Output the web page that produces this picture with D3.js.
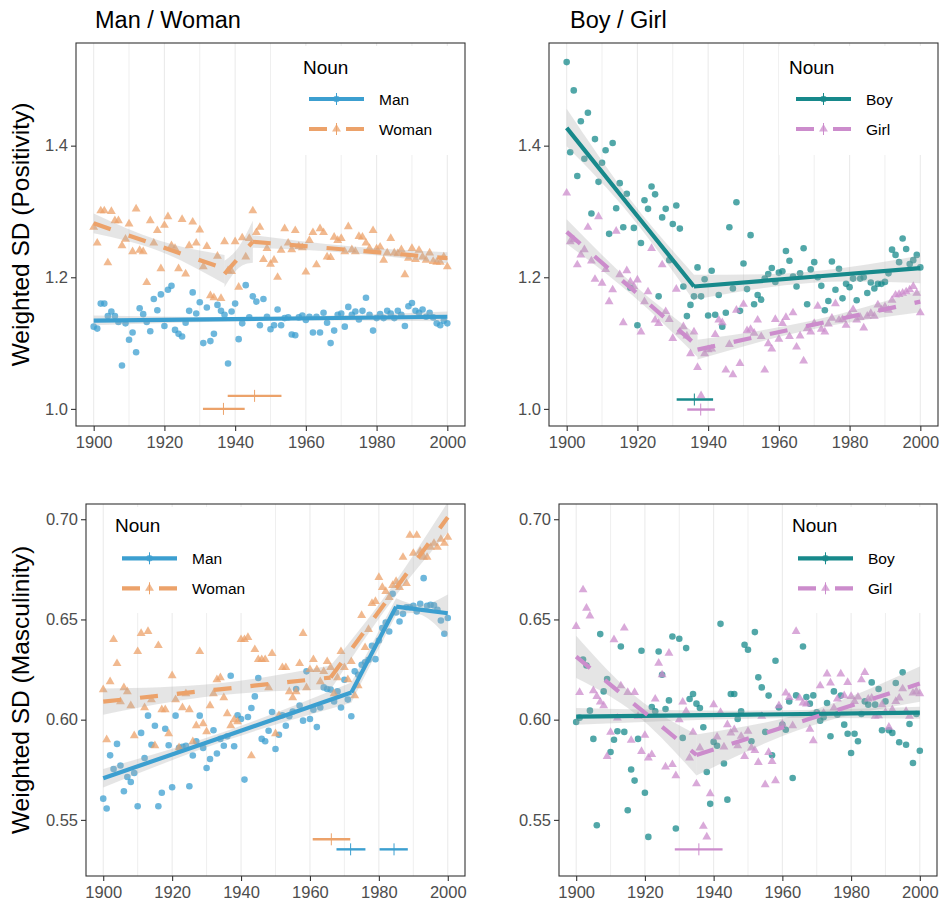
<!DOCTYPE html>
<html>
<head>
<meta charset="utf-8">
<style>
    body { margin: 0; background: #fff; }
    text { font-family: "Liberation Sans", Arial, sans-serif; }
</style>
</head>
<body>
<svg id="chart" width="940" height="905"></svg>
<script src="https://cdnjs.cloudflare.com/ajax/libs/d3/7.8.5/d3.min.js"></script>
<script>
// one point per year
var years = d3.range(1900, 2001)
var xTicks = [1900, 1920, 1940, 1960, 1980, 2000]
var gridYears = [1900, 1910, 1920, 1930, 1940, 1950, 1960, 1970, 1980, 1990, 2000]
var posTicks = [1.0, 1.2, 1.4]
var mascTicks = [0.55, 0.60, 0.65, 0.70]

// weighted SD of positivity, by year
var manPos = [1.125,1.122,1.160,1.160,1.141,1.148,1.141,1.132,1.066,1.130,
    1.105,1.116,1.086,1.153,1.144,1.132,1.118,1.167,1.150,1.174,
    1.126,1.181,1.187,1.120,1.114,1.110,1.131,1.149,1.177,1.145,
    1.162,1.100,1.154,1.103,1.114,1.158,1.149,1.143,1.069,1.148,
    1.160,1.106,1.130,1.188,1.139,1.171,1.163,1.127,1.167,1.140,
    1.121,1.127,1.151,1.127,1.138,1.139,1.113,1.112,1.139,1.142,
    1.135,1.140,1.116,1.140,1.116,1.146,1.131,1.100,1.119,1.143,
    1.145,1.125,1.155,1.143,1.148,1.136,1.149,1.169,1.143,1.119,
    1.138,1.144,1.138,1.149,1.145,1.138,1.149,1.143,1.126,1.156,
    1.161,1.149,1.146,1.151,1.140,1.146,1.139,1.130,1.127,1.134,
    1.130]
var womanPos = [1.276,1.252,1.301,1.301,1.222,1.300,1.286,1.286,1.248,1.258,
    1.281,1.239,1.304,1.241,1.239,1.192,1.286,1.252,1.271,1.213,
    1.279,1.292,1.248,1.244,1.213,1.288,1.205,1.248,1.284,1.252,
    1.272,1.216,1.247,1.172,1.169,1.232,1.168,1.254,1.210,1.209,
    1.254,1.185,1.260,1.231,1.259,1.301,1.268,1.276,1.227,1.244,
    1.220,1.226,1.200,1.241,1.274,1.252,1.242,1.271,1.247,1.245,
    1.208,1.256,1.268,1.219,1.274,1.268,1.231,1.230,1.261,1.256,
    1.259,1.239,1.277,1.242,1.239,1.262,1.261,1.252,1.244,1.271,
    1.243,1.246,1.226,1.237,1.259,1.237,1.236,1.242,1.204,1.229,
    1.244,1.227,1.241,1.231,1.226,1.237,1.224,1.223,1.223,1.231,
    1.216]
var boyPos = [1.527,1.390,1.484,1.354,1.437,1.380,1.450,1.297,1.410,1.345,
    1.374,1.393,1.266,1.404,1.305,1.343,1.276,1.327,1.184,1.275,
    1.127,1.252,1.317,1.304,1.338,1.326,1.171,1.291,1.304,1.226,
    1.281,1.309,1.274,1.186,1.141,1.158,1.171,1.215,1.171,1.197,
    1.142,1.210,1.143,1.173,1.125,1.146,1.276,1.183,1.314,1.149,
    1.221,1.182,1.264,1.159,1.173,1.166,1.198,1.205,1.214,1.193,
    1.207,1.209,1.240,1.225,1.201,1.186,1.206,1.244,1.159,1.212,
    1.223,1.200,1.187,1.150,1.164,1.224,1.181,1.213,1.168,1.190,
    1.185,1.198,1.165,1.198,1.200,1.176,1.192,1.183,1.190,1.190,
    1.193,1.206,1.242,1.234,1.223,1.259,1.243,1.220,1.226,1.234,
    1.215]
var girlPos = [1.328,1.254,1.257,1.219,1.234,1.242,1.276,1.225,1.197,1.292,
    1.191,1.212,1.163,1.181,1.270,1.204,1.131,1.210,1.193,1.186,
    1.196,1.117,1.163,1.178,1.244,1.135,1.130,1.219,1.148,1.136,
    1.107,1.182,1.117,1.125,1.111,1.084,1.117,1.063,1.020,1.084,
    1.090,1.091,1.113,1.135,1.131,1.059,1.098,1.052,1.150,1.069,
    1.159,1.119,1.121,1.115,1.135,1.110,1.059,1.099,1.091,1.136,
    1.106,1.130,1.139,1.110,1.146,1.094,1.111,1.073,1.122,1.117,
    1.130,1.156,1.121,1.117,1.129,1.138,1.160,1.135,1.136,1.127,
    1.143,1.151,1.135,1.139,1.123,1.141,1.145,1.141,1.158,1.151,
    1.155,1.150,1.165,1.173,1.174,1.176,1.178,1.181,1.186,1.176,
    1.146]

// weighted SD of masculinity, by year
var manMasc = [0.5606,0.5557,0.5822,0.5754,0.5879,0.5771,0.5643,0.5714,0.5689,0.5734,
    0.5568,0.5934,0.5809,0.6020,0.5875,0.5970,0.5568,0.5635,0.5955,0.5872,
    0.5663,0.6020,0.5859,0.5864,0.5870,0.5668,0.5821,0.5892,0.6020,0.5859,
    0.5759,0.5804,0.5947,0.5831,0.5904,0.5870,0.5917,0.6219,0.5867,0.6022,
    0.6003,0.5701,0.6013,0.6058,0.6116,0.6208,0.5904,0.5892,0.5945,0.6038,
    0.5854,0.5925,0.6022,0.5970,0.6017,0.6041,0.6153,0.6071,0.5995,0.6241,
    0.6003,0.6050,0.5963,0.6061,0.6161,0.6153,0.6150,0.6091,0.6141,0.6061,
    0.6199,0.6100,0.6017,0.6241,0.6224,0.6274,0.6286,0.6299,0.6369,0.6302,
    0.6395,0.6457,0.6485,0.6440,0.6628,0.6535,0.6490,0.6528,0.6561,0.6561,
    0.6568,0.6540,0.6578,0.6706,0.6568,0.6573,0.6570,0.6548,0.6495,0.6429,
    0.6507]
var womanMasc = [0.615,0.590,0.619,0.640,0.628,0.609,0.616,0.614,0.607,0.592,
    0.634,0.643,0.606,0.644,0.610,0.587,0.637,0.605,0.605,0.593,
    0.622,0.610,0.586,0.606,0.613,0.605,0.589,0.597,0.634,0.598,
    0.594,0.607,0.613,0.620,0.621,0.611,0.603,0.597,0.600,0.599,
    0.640,0.640,0.641,0.582,0.635,0.630,0.630,0.630,0.616,0.633,
    0.593,0.602,0.626,0.626,0.614,0.611,0.614,0.628,0.643,0.616,
    0.625,0.630,0.625,0.619,0.624,0.629,0.626,0.613,0.621,0.634,
    0.626,0.620,0.629,0.612,0.617,0.652,0.636,0.645,0.658,0.659,
    0.671,0.666,0.664,0.661,0.667,0.669,0.666,0.681,0.668,0.692,
    0.683,0.692,0.684,0.681,0.681,0.686,0.688,0.686,0.690,0.688,
    0.691]
var boyMasc = [0.5988,0.6010,0.6300,0.6270,0.6045,0.5904,0.5473,0.6427,0.6141,0.6203,
    0.5839,0.5900,0.5942,0.6365,0.5939,0.5548,0.5751,0.5696,0.5904,0.6344,
    0.5635,0.5415,0.6063,0.6042,0.6340,0.6224,0.6053,0.6096,0.6415,0.5457,
    0.6404,0.5909,0.6357,0.6103,0.6128,0.6080,0.6058,0.5962,0.5739,0.5580,
    0.5889,0.5870,0.6478,0.5781,0.5601,0.6128,0.6128,0.6003,0.6042,0.6374,
    0.6349,0.5892,0.6437,0.6211,0.6161,0.5939,0.6120,0.5822,0.6294,0.6061,
    0.5975,0.5950,0.6091,0.5709,0.6121,0.6555,0.6365,0.6113,0.6080,0.6121,
    0.6037,0.5995,0.6012,0.6083,0.5917,0.6141,0.6025,0.6120,0.5975,0.5930,
    0.5834,0.5930,0.5892,0.6028,0.6091,0.6075,0.6186,0.6075,0.6153,0.5947,
    0.6091,0.5947,0.5934,0.6183,0.5887,0.6236,0.5875,0.5978,0.5784,0.6028,
    0.5845]
var girlMasc = [0.6465,0.6136,0.6648,0.6556,0.6518,0.6145,0.6116,0.6088,0.6070,0.5817,
    0.5937,0.6399,0.6008,0.6169,0.6457,0.6136,0.5897,0.6136,0.6017,0.5842,
    0.5922,0.5809,0.5826,0.6103,0.6282,0.6224,0.5764,0.6332,0.5776,0.5721,
    0.6000,0.6088,0.6042,0.5809,0.5937,0.5680,0.5859,0.5468,0.5415,0.5631,
    0.6075,0.5914,0.6037,0.5864,0.5975,0.5934,0.5950,0.5870,0.5917,0.5817,
    0.5942,0.5859,0.5847,0.5787,0.6017,0.5676,0.5837,0.5792,0.5696,0.6070,
    0.5978,0.6133,0.6111,0.5970,0.6440,0.6108,0.6083,0.6078,0.5953,0.5895,
    0.6025,0.6169,0.6033,0.6228,0.6183,0.6058,0.6103,0.6228,0.6120,0.6186,
    0.6116,0.6091,0.6113,0.6199,0.6236,0.6103,0.6108,0.6017,0.6020,0.6075,
    0.6037,0.5963,0.6050,0.6091,0.6108,0.6154,0.6042,0.6017,0.6133,0.6141,
    0.6130]

// segmented fits: each segment is a list of [year, fit, lower, upper]
var manPosFit = [[[1900,1.134,1.127,1.142],[1950,1.137,1.134,1.140],[2000,1.140,1.133,1.148]]]
var womanPosFit = [
    [[1900,1.282,1.267,1.297],[1918.5,1.2475,1.240,1.256],[1937,1.213,1.190,1.234]],
    [[1937,1.205,1.185,1.225],[1941,1.2295,1.214,1.246],[1945,1.254,1.222,1.286]],
    [[1945,1.254,1.245,1.264],[1972.5,1.2415,1.237,1.247],[2000,1.229,1.221,1.238]]]
var boyPosFit = [
    [[1900,1.427,1.399,1.456],[1918,1.3065,1.294,1.318],[1936,1.186,1.164,1.204]],
    [[1936,1.186,1.166,1.204],[1968,1.200,1.191,1.208],[2000,1.214,1.191,1.233]]]
var girlPosFit = [
    [[1900,1.269,1.251,1.288],[1918.5,1.182,1.173,1.191],[1937,1.095,1.079,1.112]],
    [[1937,1.090,1.075,1.105],[1968.5,1.1265,1.120,1.133],[2000,1.163,1.147,1.180]]]
var manMascFit = [
    [[1900,0.5708,0.5662,0.5754],[1936,0.59215,0.5898,0.5945],[1972,0.6135,0.6085,0.6185]],
    [[1972,0.6135,0.6085,0.6185],[1978.5,0.63495,0.6305,0.6394],[1985,0.6564,0.6522,0.6606]],
    [[1985,0.6564,0.6522,0.6606],[1992.5,0.65475,0.6522,0.6573],[2000,0.6531,0.6410,0.6625]]]
var womanMascFit = [
    [[1900,0.6090,0.6025,0.6155],[1933,0.6150,0.6120,0.6180],[1966,0.6210,0.6150,0.6270]],
    [[1966,0.6210,0.6150,0.6270],[1983,0.6610,0.6575,0.6645],[2000,0.7010,0.6935,0.7085]]]
var boyMascFit = [[[1900,0.6015,0.5975,0.6058],[1950,0.6025,0.6005,0.6045],[2000,0.6035,0.6005,0.6065]]]
var girlMascFit = [
    [[1900,0.6314,0.6208,0.6419],[1917.5,0.6069,0.6025,0.6113],[1935,0.5824,0.5722,0.5926]],
    [[1935,0.5824,0.5722,0.5926],[1967.5,0.6002,0.5965,0.6040],[2000,0.6180,0.6090,0.6265]]]

// breakpoint estimates: [estimate, lower, upper, drawn at y]
var womanPosBreaks = [[1936.7,1930.9,1942.7,1.000],[1945.5,1937.9,1953.1,1.0198]]
var boyPosBreaks = [[1936.1,1931.1,1941.4,1.0142]]
var girlPosBreaks = [[1937.9,1934.1,1941.9,0.999]]
var manMascBreaks = [[1971.8,1967.7,1976.1,0.5353],[1984.4,1980.2,1988.4,0.5353]]
var womanMascBreaks = [[1966.2,1960.8,1971.7,0.5403]]
var girlMascBreaks = [[1935.7,1928.7,1942.6,0.5353]]

var colors = {Man: "#3c9fd0", Woman: "#eca26a", Boy: "#17898b", Girl: "#cc8ccc"}

var svg = d3.select("#chart")

var panels = [
    {id: 1, left: 76, right: 465, top: 43, bottom: 426, ydomain: [0.974, 1.556], yticks: posTicks, yfmt: ".1f",
     title: "Man / Woman", titleX: 95, ytitle: "Weighted SD (Positivity)",
     legend: {box: [296, 46, 162, 109], titleX: 303, titleY: 73.5, keyX: 309, rows: [99, 129], labelX: 379},
     series: [{name: "Man", values: manPos, fit: manPosFit, breaks: [], shape: "circle", dashed: false},
              {name: "Woman", values: womanPos, fit: womanPosFit, breaks: womanPosBreaks, shape: "triangle", dashed: true}]},
    {id: 2, left: 549, right: 938, top: 43, bottom: 426, ydomain: [0.974, 1.556], yticks: posTicks, yfmt: ".1f",
     title: "Boy / Girl", titleX: 570, ytitle: null,
     legend: {box: [779, 46, 154, 109], titleX: 789, titleY: 73.5, keyX: 796, rows: [99, 129], labelX: 866},
     series: [{name: "Boy", values: boyPos, fit: boyPosFit, breaks: boyPosBreaks, shape: "circle", dashed: false},
              {name: "Girl", values: girlPos, fit: girlPosFit, breaks: girlPosBreaks, shape: "triangle", dashed: true}]},
    {id: 3, left: 86, right: 465, top: 504, bottom: 876, ydomain: [0.522, 0.7076], yticks: mascTicks, yfmt: ".2f",
     title: null, ytitle: "Weighted SD (Masculinity)",
     legend: {box: [108, 507, 144, 106], titleX: 115, titleY: 531.5, keyX: 122, rows: [558.3, 588.3], labelX: 192},
     series: [{name: "Man", values: manMasc, fit: manMascFit, breaks: manMascBreaks, shape: "circle", dashed: false},
              {name: "Woman", values: womanMasc, fit: womanMascFit, breaks: womanMascBreaks, shape: "triangle", dashed: true}]},
    {id: 4, left: 559, right: 937, top: 504, bottom: 876, ydomain: [0.522, 0.7076], yticks: mascTicks, yfmt: ".2f",
     title: null, ytitle: null,
     legend: {box: [785, 507, 145, 106], titleX: 792, titleY: 531.5, keyX: 798, rows: [558.3, 588.3], labelX: 868},
     series: [{name: "Boy", values: boyMasc, fit: boyMascFit, breaks: [], shape: "circle", dashed: false},
              {name: "Girl", values: girlMasc, fit: girlMascFit, breaks: girlMascBreaks, shape: "triangle", dashed: true}]}
]

var triangle = d3.symbol().type(d3.symbolTriangle).size(34)
var dashes = "18,19"

panels.forEach(function(p){
    var x = d3.scaleLinear().domain([1895, 2005]).range([p.left, p.right])
    var y = d3.scaleLinear().domain(p.ydomain).range([p.bottom, p.top])
    var g = svg.append("g")

    svg.append("clipPath").attr("id", "clip" + p.id)
        .append("rect")
        .attr("x", p.left).attr("y", p.top)
        .attr("width", p.right - p.left).attr("height", p.bottom - p.top)

    // vertical grid only
    g.append("g").selectAll("line")
        .data(gridYears)
        .enter()
        .append("line")
        .attr("x1", function(d){return x(d)})
        .attr("x2", function(d){return x(d)})
        .attr("y1", p.top)
        .attr("y2", p.bottom)
        .attr("stroke", "#ebebeb")
        .attr("stroke-width", function(d){return d % 20 == 0 ? 1.1 : 0.8})

    var plot = g.append("g").attr("clip-path", "url(#clip" + p.id + ")")

    // points
    p.series.forEach(function(s){
        var pts = plot.append("g").attr("fill", colors[s.name]).attr("fill-opacity", 0.75)
        if (s.shape == "circle") {
            pts.selectAll("circle")
                .data(s.values)
                .enter()
                .append("circle")
                .attr("cx", function(d, i){return x(years[i])})
                .attr("cy", function(d){return y(d)})
                .attr("r", 3.3)
        } else {
            pts.selectAll("path")
                .data(s.values)
                .enter()
                .append("path")
                .attr("d", triangle)
                .attr("transform", function(d, i){return "translate(" + x(years[i]) + "," + y(d) + ")"})
        }
    })

    // confidence ribbons
    var area = d3.area()
        .x(function(k){return x(k[0])})
        .y0(function(k){return y(k[2])})
        .y1(function(k){return y(k[3])})
        .curve(d3.curveNatural)
    p.series.forEach(function(s){
        plot.append("g").selectAll("path")
            .data(s.fit)
            .enter()
            .append("path")
            .attr("d", area)
            .attr("fill", "#a8a8a8")
            .attr("fill-opacity", 0.3)
    })

    // fitted lines
    var line = d3.line()
        .x(function(k){return x(k[0])})
        .y(function(k){return y(k[1])})
    p.series.forEach(function(s){
        plot.append("g").selectAll("path")
            .data(s.fit)
            .enter()
            .append("path")
            .attr("d", line)
            .attr("fill", "none")
            .attr("stroke", colors[s.name])
            .attr("stroke-width", 4.2)
            .attr("stroke-dasharray", s.dashed ? dashes : null)
    })

    // breakpoint estimates with intervals
    p.series.forEach(function(s){
        var b = plot.append("g").attr("stroke", colors[s.name])
        b.selectAll(".ci")
            .data(s.breaks)
            .enter()
            .append("line")
            .attr("x1", function(d){return x(d[1])})
            .attr("x2", function(d){return x(d[2])})
            .attr("y1", function(d){return y(d[3])})
            .attr("y2", function(d){return y(d[3])})
            .attr("stroke-width", 2.4)
        b.selectAll(".est")
            .data(s.breaks)
            .enter()
            .append("line")
            .attr("x1", function(d){return x(d[0])})
            .attr("x2", function(d){return x(d[0])})
            .attr("y1", function(d){return y(d[3]) - 6})
            .attr("y2", function(d){return y(d[3]) + 6})
            .attr("stroke-width", 1)
    })

    // legend, drawn over the plot with a white box
    var lg = p.legend
    var leg = g.append("g")
    leg.append("rect")
        .attr("x", lg.box[0]).attr("y", lg.box[1])
        .attr("width", lg.box[2]).attr("height", lg.box[3])
        .attr("fill", "white")
    leg.append("text")
        .attr("x", lg.titleX).attr("y", lg.titleY)
        .attr("font-size", 19)
        .attr("fill", "black")
        .text("Noun")
    p.series.forEach(function(s, i){
        var ky = lg.rows[i]
        var c = colors[s.name]
        leg.append("line")
            .attr("x1", lg.keyX).attr("x2", lg.keyX + 55)
            .attr("y1", ky).attr("y2", ky)
            .attr("stroke", c).attr("stroke-width", 4.2)
            .attr("stroke-dasharray", s.dashed ? dashes : null)
        if (s.shape == "circle") {
            leg.append("circle").attr("cx", lg.keyX + 27.5).attr("cy", ky).attr("r", 3.3)
                .attr("fill", c).attr("fill-opacity", 0.75)
        } else {
            leg.append("path").attr("d", triangle)
                .attr("transform", "translate(" + (lg.keyX + 27.5) + "," + ky + ")")
                .attr("fill", c).attr("fill-opacity", 0.75)
        }
        leg.append("line")
            .attr("x1", lg.keyX + 27.5).attr("x2", lg.keyX + 27.5)
            .attr("y1", ky - 6).attr("y2", ky + 6)
            .attr("stroke", c).attr("stroke-width", 1)
        leg.append("text")
            .attr("x", lg.labelX).attr("y", ky + 5.5)
            .attr("font-size", 15.5)
            .attr("fill", "black")
            .text(s.name)
    })

    // axes
    var yAxis = d3.axisLeft(y).tickValues(p.yticks).tickFormat(d3.format(p.yfmt)).tickSize(5).tickPadding(3)
    var xAxis = d3.axisBottom(x).tickValues(xTicks).tickFormat(d3.format("d")).tickSize(5).tickPadding(5)
    var ya = g.append("g").attr("transform", "translate(" + p.left + ",0)").call(yAxis)
    var xa = g.append("g").attr("transform", "translate(0," + p.bottom + ")").call(xAxis)
    ;[ya, xa].forEach(function(a){
        a.select(".domain").remove()
        a.selectAll("line").attr("stroke", "#333333").attr("stroke-width", 1.1)
        a.selectAll("text").attr("font-size", 16.5).attr("fill", "#4d4d4d")
            .style("font-family", '"Liberation Sans", Arial, sans-serif')
    })

    g.append("rect")
        .attr("x", p.left).attr("y", p.top)
        .attr("width", p.right - p.left).attr("height", p.bottom - p.top)
        .attr("fill", "none")
        .attr("stroke", "#333333")
        .attr("stroke-width", 1.1)

    if (p.title) {
        svg.append("text")
            .attr("x", p.titleX).attr("y", 28)
            .attr("font-size", 23.5)
            .attr("fill", "black")
            .text(p.title)
    }
    if (p.ytitle) {
        svg.append("text")
            .attr("transform", "translate(29," + ((p.top + p.bottom) / 2) + ") rotate(-90)")
            .attr("text-anchor", "middle")
            .attr("font-size", 24.5)
            .attr("fill", "black")
            .text(p.ytitle)
    }
})
</script>
</body>
</html>
